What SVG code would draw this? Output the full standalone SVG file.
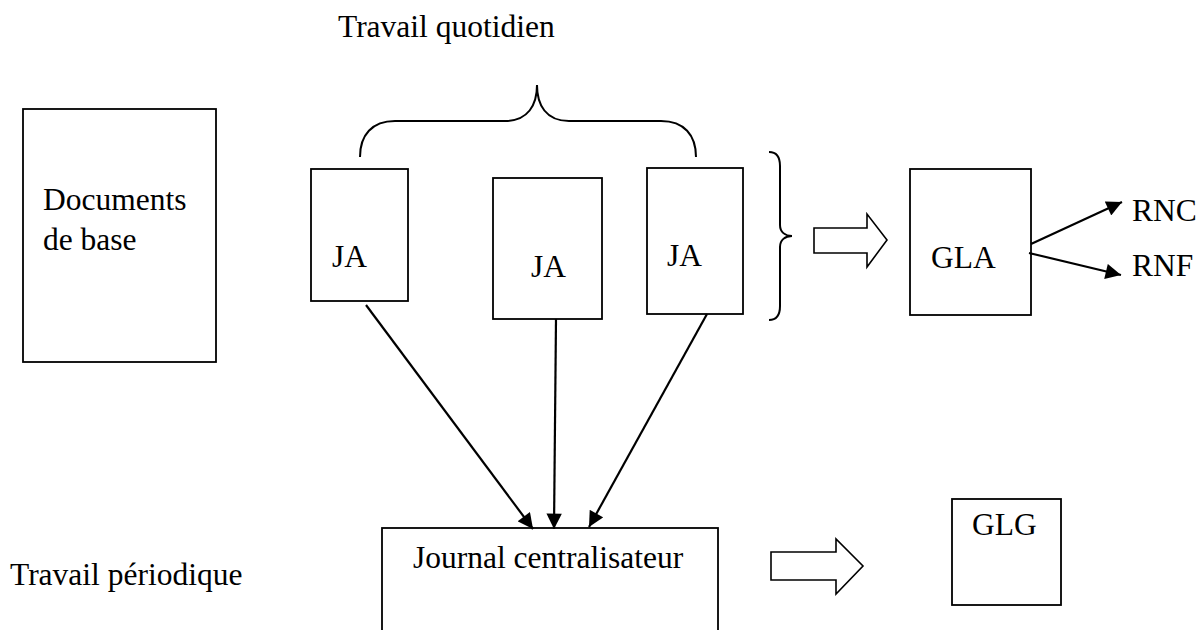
<svg xmlns="http://www.w3.org/2000/svg" width="1201" height="630" viewBox="0 0 1201 630">
<style>
text{font-family:"Liberation Serif","Times New Roman",serif;font-size:31.5px;fill:#000}
.box{fill:#fff;stroke:#000;stroke-width:1.8}
.ln{fill:none;stroke:#000;stroke-width:2}
.cn{fill:none;stroke:#000;stroke-width:2.2}
.blk{fill:#fff;stroke:#000;stroke-width:1.6;stroke-linejoin:miter}
</style>
<defs>
<marker id="ah" viewBox="0 0 10 10" refX="10" refY="5" markerWidth="7.5" markerHeight="7" markerUnits="strokeWidth" orient="auto">
<path d="M0,0 L10,5 L0,10 z" fill="#000"/>
</marker>
</defs>
<text x="338" y="37">Travail quotidien</text>
<text x="10" y="585">Travail périodique</text>
<g id="documents"><rect class="box" x="23" y="109" width="193" height="253"/><text x="43" y="210">Documents</text><text x="43" y="250">de base</text></g>
<g id="ja1"><rect class="box" x="311" y="169" width="97" height="132"/><text x="332" y="267">JA</text></g>
<g id="ja2"><rect class="box" x="493" y="178" width="109" height="141"/><text x="531" y="277">JA</text></g>
<g id="ja3"><rect class="box" x="647" y="168" width="96" height="146"/><text x="667" y="266">JA</text></g>
<g id="gla"><rect class="box" x="910" y="169" width="121" height="146"/><text x="931" y="268">GLA</text></g>
<g id="glg"><rect class="box" x="952" y="499" width="109" height="106"/><text x="972" y="535">GLG</text></g>
<g id="journal"><rect class="box" x="382" y="528" width="336" height="120"/><text x="413" y="568">Journal centralisateur</text></g>
<g id="rnc"><text x="1132" y="221">RNC</text></g>
<g id="rnf"><text x="1132" y="276">RNF</text></g>
<g id="braces">
<path class="ln" d="M360,157 C360,135 372,121 395,121 L505,121 C528,121 537,105 537,85 C537,105 546,121 569,121 L661,121 C684,121 696,135 696,157"/>
<path class="ln" d="M769,152 C776,152 780,157 780,166 L780,225 C780,232 785,236 792,236 C785,236 780,240 780,247 L780,306 C780,315 776,320 769,320"/>
</g>
<g id="connectors">
<line class="cn" x1="366" y1="305" x2="533" y2="529" marker-end="url(#ah)"/>
<line class="cn" x1="556" y1="319" x2="554" y2="529" marker-end="url(#ah)"/>
<line class="cn" x1="707" y1="314" x2="589" y2="527" marker-end="url(#ah)"/>
<line class="cn" x1="1031" y1="244" x2="1122" y2="202" marker-end="url(#ah)"/>
<line class="cn" x1="1029" y1="253" x2="1121" y2="275" marker-end="url(#ah)"/>
<path class="blk" d="M814,228 L867,228 L867,214 L887,240 L867,267 L867,253 L814,253 Z"/>
<path class="blk" d="M771,552 L836,552 L836,539 L863,566 L836,594 L836,580 L771,580 Z"/>
</g>
</svg>
